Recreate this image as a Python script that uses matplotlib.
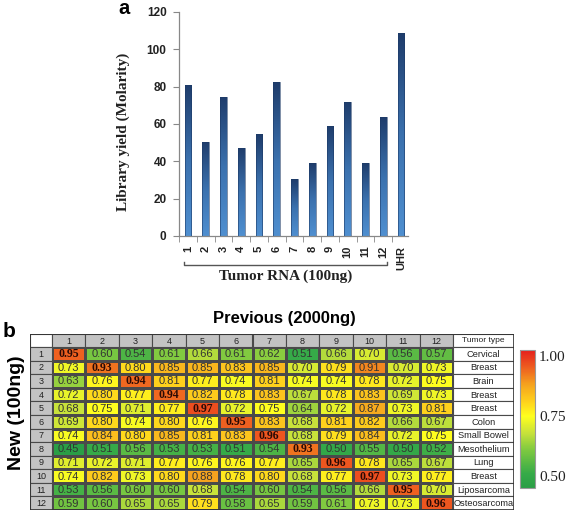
import matplotlib
import numpy as np

matplotlib.use("Agg")
import matplotlib.pyplot as plt
from matplotlib.colors import LinearSegmentedColormap, Normalize
from matplotlib.patches import Rectangle
from matplotlib.transforms import blended_transform_factory

# ---- data -------------------------------------------------------------
samples = ["1", "2", "3", "4", "5", "6", "7", "8", "9", "10", "11", "12", "UHR"]
library_yield = [81, 50.5, 74.5, 47, 54.5, 82.5, 30.5, 39, 59, 72, 39, 63.5, 108.5]

previous_labels = [str(i) for i in range(1, 13)]
new_labels = [str(i) for i in range(1, 13)]
tumor_types = [
    "Cervical", "Breast", "Brain", "Breast", "Breast", "Colon",
    "Small Bowel", "Mesothelium", "Lung", "Breast", "Liposarcoma", "Osteosarcoma",
]
correlation = np.array([
    [0.95, 0.60, 0.54, 0.61, 0.66, 0.61, 0.62, 0.51, 0.66, 0.70, 0.56, 0.57],
    [0.73, 0.93, 0.80, 0.85, 0.85, 0.83, 0.85, 0.70, 0.79, 0.91, 0.70, 0.73],
    [0.63, 0.76, 0.94, 0.81, 0.77, 0.74, 0.81, 0.74, 0.74, 0.78, 0.72, 0.75],
    [0.72, 0.80, 0.77, 0.94, 0.82, 0.78, 0.83, 0.67, 0.78, 0.83, 0.69, 0.73],
    [0.68, 0.75, 0.71, 0.77, 0.97, 0.72, 0.75, 0.64, 0.72, 0.87, 0.73, 0.81],
    [0.69, 0.80, 0.74, 0.80, 0.76, 0.95, 0.83, 0.68, 0.81, 0.82, 0.66, 0.67],
    [0.74, 0.84, 0.80, 0.85, 0.81, 0.83, 0.96, 0.68, 0.79, 0.84, 0.72, 0.75],
    [0.45, 0.51, 0.56, 0.53, 0.53, 0.51, 0.54, 0.93, 0.50, 0.55, 0.50, 0.52],
    [0.71, 0.72, 0.71, 0.77, 0.76, 0.76, 0.77, 0.65, 0.96, 0.78, 0.65, 0.67],
    [0.74, 0.82, 0.73, 0.80, 0.88, 0.78, 0.80, 0.68, 0.77, 0.97, 0.73, 0.77],
    [0.53, 0.56, 0.60, 0.60, 0.68, 0.54, 0.60, 0.54, 0.56, 0.66, 0.95, 0.70],
    [0.59, 0.60, 0.65, 0.65, 0.79, 0.58, 0.65, 0.59, 0.61, 0.73, 0.73, 0.96],
])
colorbar_ticks = [0.50, 0.75, 1.00]

# ---- style ------------------------------------------------------------
SANS = ["Liberation Sans", "DejaVu Sans"]
SERIF = ["Liberation Serif", "DejaVu Serif"]
plt.rcParams["font.family"] = SANS
TEXT = "#222222"

W, H = 567, 512
fig = plt.figure(figsize=(W / 100, H / 100), dpi=100)


def px_axes(left, top, right, bottom):
    return fig.add_axes([left / W, 1 - bottom / H, (right - left) / W, (bottom - top) / H])


# ---- panel a: bar chart -----------------------------------------------
AX_L, AX_T, AX_R, AX_B = 179, 12, 408, 236
ax = px_axes(AX_L, AX_T, AX_R, AX_B)
x = np.arange(len(samples))
bars = ax.bar(x, library_yield, width=0.38, color="none", edgecolor="#1d3a66",
              linewidth=0.4, zorder=3)
bar_cmap = LinearSegmentedColormap.from_list("bar", ["#4f8fd0", "#3b71ae", "#1f3d6c"])
grad = np.linspace(0, 1, 64).reshape(-1, 1)
for bar in bars:
    x0, w, h = bar.get_x(), bar.get_width(), bar.get_height()
    im = ax.imshow(grad, extent=(x0, x0 + w, 0, h), origin="lower", cmap=bar_cmap,
                   aspect="auto", zorder=2, interpolation="bilinear")
    im.set_clip_path(bar)

ax.set_xlim(-0.51, 12.4)
ax.set_ylim(0, 120)
ax.set_yticks(range(0, 121, 20))
ax.set_xticks(x)
ax.set_xticklabels(samples, rotation=90, fontsize=8, fontweight="bold", color=TEXT)
ax.set_xticks(np.arange(-0.5, 12.5, 1), minor=True)
ax.tick_params(axis="x", which="major", length=0, pad=7)
ax.tick_params(axis="x", which="minor", length=4, color="#888888", direction="out")
ax.tick_params(axis="y", length=4, color="#888888", labelsize=8.5, labelcolor=TEXT, pad=5)
for lbl in ax.get_yticklabels():
    lbl.set_fontweight("bold")
for side in ("top", "right"):
    ax.spines[side].set_visible(False)
for side in ("left", "bottom"):
    ax.spines[side].set_color("#888888")
    ax.spines[side].set_linewidth(0.9)

ax_w, ax_h = AX_R - AX_L, AX_B - AX_T
ax.set_ylabel("Library yield (Molarity)", family=SERIF, fontweight="bold", fontsize=11,
              color=TEXT)
ax.yaxis.set_label_coords((130 - AX_L) / ax_w, (AX_B - 132) / ax_h)

trans = blended_transform_factory(ax.transData, ax.transAxes)
yb = (AX_B - 265) / ax_h
ax.plot([-0.25, -0.25, 11.2, 11.2], [yb + 0.015, yb, yb, yb + 0.015], color="#555555",
        lw=1.0, transform=trans, clip_on=False)
ax.text(5.5, (AX_B - 276) / ax_h, "Tumor RNA (100ng)", transform=trans, ha="center",
        va="center", family=SERIF, fontweight="bold", fontsize=11, color=TEXT)

fig.text(118 / W, 1 - 14 / H, "a", ha="left", va="baseline", fontsize=14.5,
         fontweight="bold")

# ---- panel b: correlation table ----------------------------------------
cmap = LinearSegmentedColormap.from_list(
    "excel3",
    [(0.00, "#2a9e46"), (0.10, "#35aa48"), (0.27, "#7cc840"), (0.40, "#c8e23a"),
     (0.52, "#ffff1e"), (0.62, "#ffd41c"), (0.75, "#f5a31e"), (0.87, "#ee6020"),
     (1.00, "#e51f1c")],
)
norm = Normalize(0.45, 1.025)

axt = px_axes(30, 334, 514, 510)
axt.set_xlim(30, 514)
axt.set_ylim(510, 334)
axt.axis("off")

col_w = (453 - 52) / 12
row_h = (510 - 347) / 12
x_edges = 52 + col_w * np.arange(13)
y_edges = 347 + row_h * np.arange(13)
edge = "#4a4a4a"

axt.pcolormesh(x_edges, y_edges, correlation, cmap=cmap, norm=norm,
               edgecolors=edge, linewidth=0.8)

# header row and row-label column
axt.add_patch(Rectangle((30, 334), 22, 13, facecolor="white", edgecolor=edge, lw=0.8))
for j, lab in enumerate(previous_labels):
    axt.add_patch(Rectangle((x_edges[j], 334), col_w, 13, facecolor="#c3c3c3",
                            edgecolor=edge, lw=0.8))
    axt.text(x_edges[j] + col_w / 2, 341, lab, ha="center", va="center", fontsize=6.5,
             color=TEXT)
axt.add_patch(Rectangle((453, 334), 61, 13, facecolor="white", edgecolor=edge, lw=0.8))
axt.text(483.5, 341, "Tumor type", ha="center", va="center", fontsize=6, color=TEXT)

for i, lab in enumerate(new_labels):
    y0 = y_edges[i]
    axt.add_patch(Rectangle((30, y0), 22, row_h, facecolor="#c3c3c3", edgecolor=edge, lw=0.8))
    axt.text(41, y0 + row_h / 2 + 0.5, lab, ha="center", va="center", fontsize=6.5,
             color=TEXT)
    axt.add_patch(Rectangle((453, y0), 61, row_h, facecolor="white", edgecolor=edge, lw=0.8))
    axt.text(483.5, y0 + row_h / 2 + 0.5, tumor_types[i], ha="center", va="center",
             fontsize=6.7, color=TEXT)
    for j in range(12):
        v = correlation[i, j]
        cx = x_edges[j] + col_w / 2
        cy = y_edges[i] + row_h / 2 + 0.5
        if i == j:
            axt.text(cx, cy, f"{v:.2f}", ha="center", va="center", fontsize=8.5,
                     family=SERIF, fontweight="bold", color="#2a0a05")
        else:
            axt.text(cx, cy, f"{v:.2f}", ha="center", va="center", fontsize=8,
                     color="#333333")

axt.add_patch(Rectangle((30, 334), 484, 176, facecolor="none", edgecolor="#333333", lw=1.2))

fig.text(284 / W, 1 - 318 / H, "Previous (2000ng)", ha="center", va="center",
         fontsize=12, fontweight="bold")
fig.text(17 / W, 1 - 413 / H, "New (100ng)", ha="center", va="center", rotation=90,
         fontsize=14, fontweight="bold")
fig.text(3 / W, 1 - 337 / H, "b", ha="left", va="baseline", fontsize=15, fontweight="bold")

# colour bar
cax = px_axes(520, 350, 535, 488)
sm = plt.cm.ScalarMappable(norm=norm, cmap=cmap)
cb = fig.colorbar(sm, cax=cax, ticks=colorbar_ticks)
cb.ax.set_yticklabels([f"{t:.2f}" for t in colorbar_ticks], family=SERIF, fontsize=11,
                      color=TEXT)
cb.ax.tick_params(length=0, pad=3)
cb.outline.set_edgecolor("#9a9a9a")
cb.outline.set_linewidth(0.8)

fig.savefig("out.png", dpi=100)
